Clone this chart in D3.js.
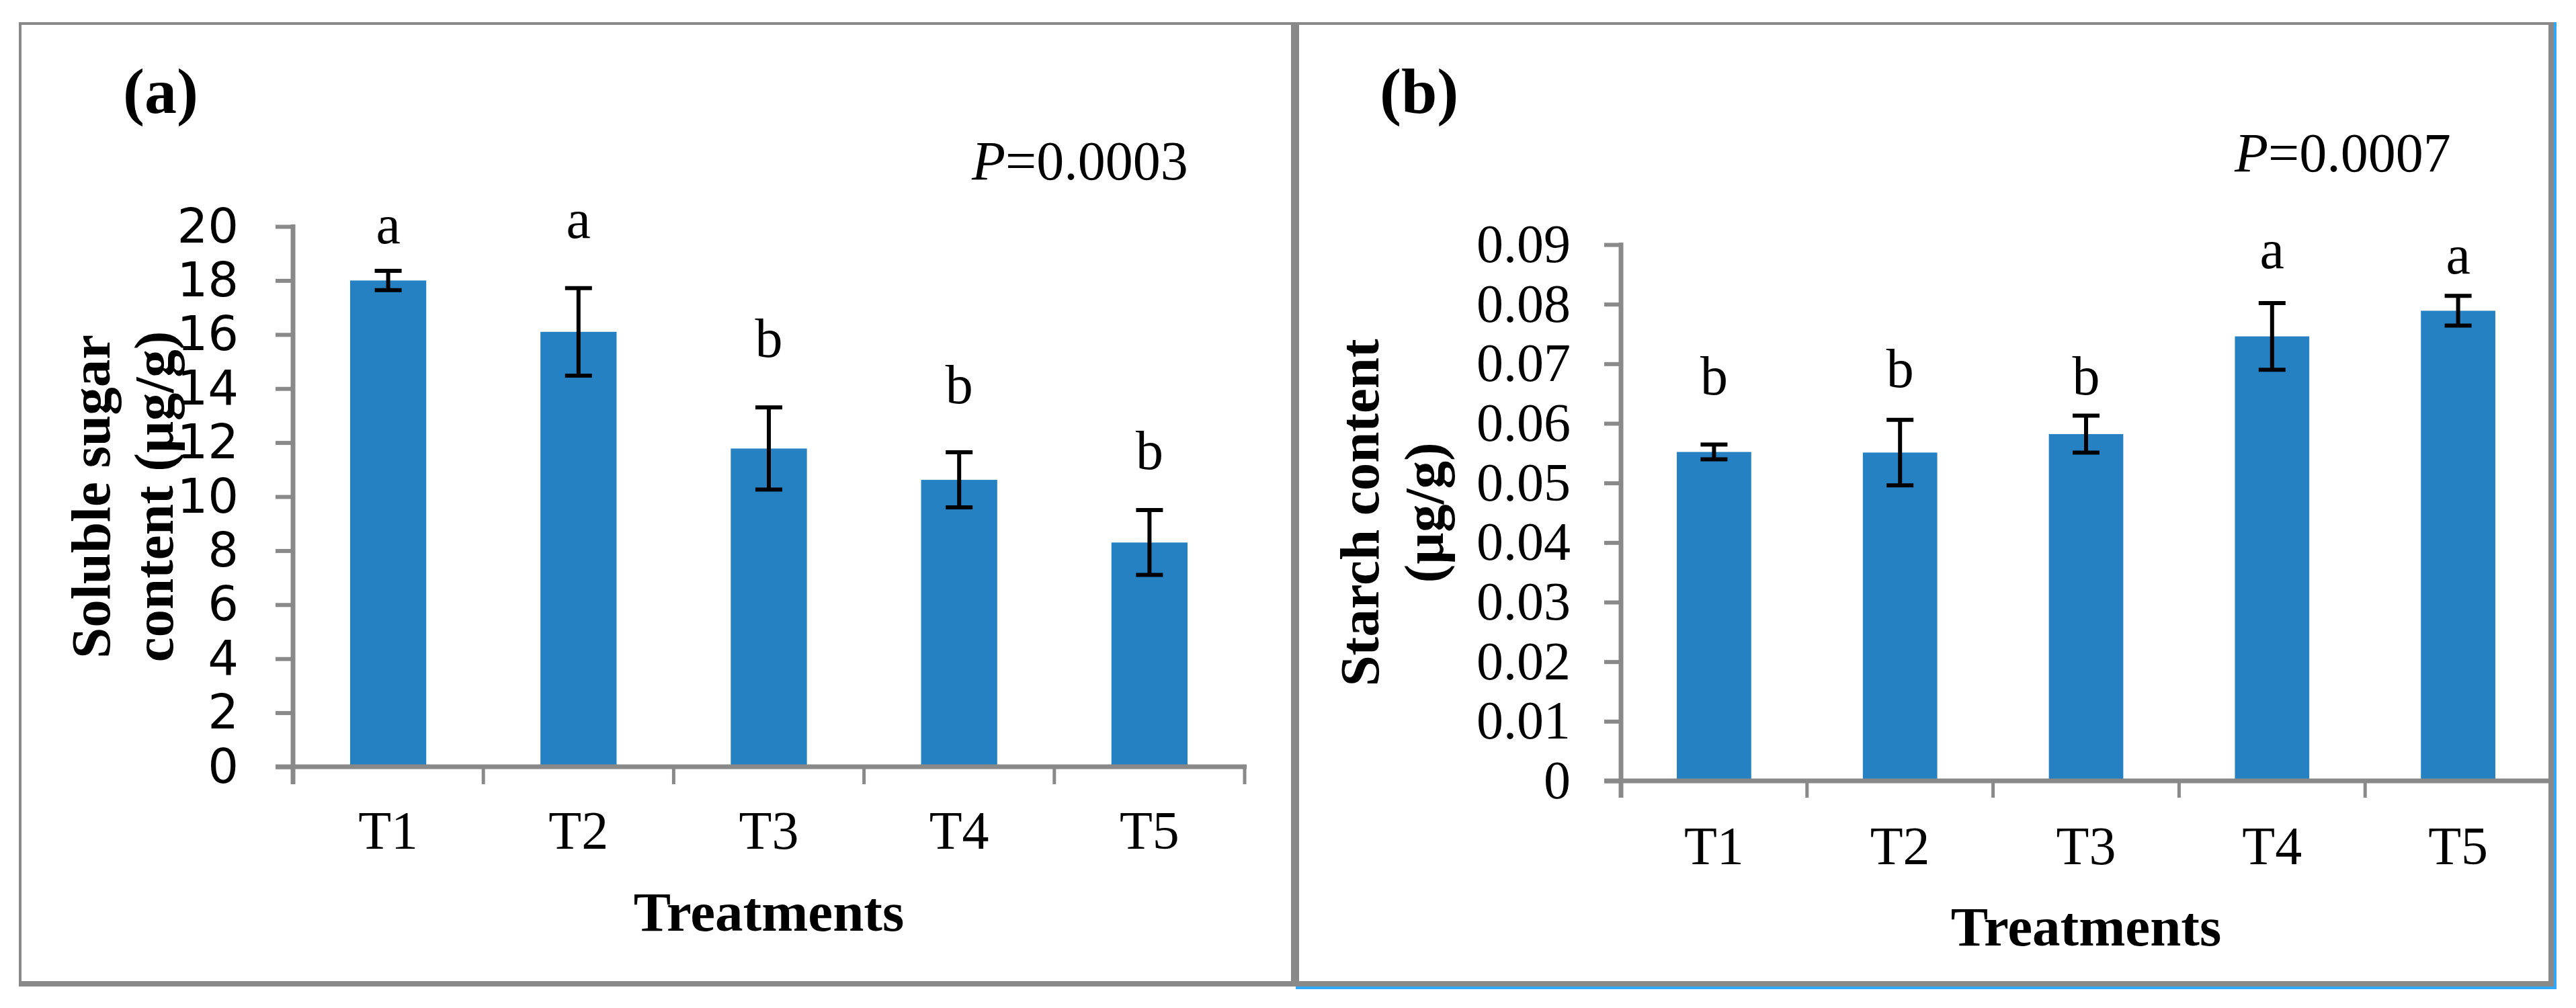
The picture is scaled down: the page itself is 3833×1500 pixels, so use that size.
<!DOCTYPE html>
<html>
<head>
<meta charset="utf-8">
<script src="https://cdn.jsdelivr.net/npm/d3@7/dist/d3.min.js"></script>
<style>
  html, body { margin: 0; padding: 0; background: #ffffff; }
  svg { display: block; }
</style>
</head>
<body>
<script>
// ---------------- DATA ----------------
const categories = ["T1", "T2", "T3", "T4", "T5"];

// Panel (a): soluble sugar content (µg/g)
const sugarMeans   = [18.0, 16.1, 11.78, 10.62, 8.3];
const sugarErrors  = [0.36, 1.62, 1.52, 1.02, 1.2];
const sugarLetters = ["a", "a", "b", "b", "b"];
const sugarLetterAt = [19.38, 19.58, 15.17, 13.46, 11.02];
const sugarTicks   = [0, 2, 4, 6, 8, 10, 12, 14, 16, 18, 20];
const sugarTickLabels = ["0", "2", "4", "6", "8", "10", "12", "14", "16", "18", "20"];

// Panel (b): starch content (µg/g)
const starchMeans   = [0.0552, 0.0551, 0.0582, 0.0746, 0.0789];
const starchErrors  = [0.00124, 0.0055, 0.0031, 0.0056, 0.0025];
const starchLetters = ["b", "b", "b", "a", "a"];
const starchLetterAt = [0.0649, 0.0661, 0.0649, 0.0860, 0.0851];
const starchTicks   = [0, 0.01, 0.02, 0.03, 0.04, 0.05, 0.06, 0.07, 0.08, 0.09];
const starchTickLabels = ["0", "0.01", "0.02", "0.03", "0.04", "0.05", "0.06", "0.07", "0.08", "0.09"];

// ---------------- STYLE ----------------
const W = 3833, H = 1500;
const GRAY = "#898989";
const BLUE_EDGE = "#2fa7fb";
const BAR = "#2581c2";
const SERIF = "'Liberation Serif', 'Times New Roman', Times, serif";
const SANS = "'DejaVu Sans', Verdana, sans-serif";

const svg = d3.select("body").append("svg")
  .attr("width", W).attr("height", H)
  .attr("viewBox", `0 0 ${W} ${H}`);

svg.append("rect").attr("width", W).attr("height", H).attr("fill", "#fff");

// ---------------- FRAMES ----------------
const frame = svg.append("g");
// blue edge (right and bottom of panel b)
frame.append("rect").attr("x", 3800).attr("y", 33).attr("width", 4).attr("height", 1439).attr("fill", BLUE_EDGE);
frame.append("rect").attr("x", 1928).attr("y", 1468).attr("width", 1876).attr("height", 4).attr("fill", BLUE_EDGE);
// gray borders
frame.append("rect").attr("x", 28).attr("y", 33).attr("width", 3772).attr("height", 4).attr("fill", GRAY);   // top
frame.append("rect").attr("x", 28).attr("y", 33).attr("width", 4).attr("height", 1435).attr("fill", GRAY);   // left
frame.append("rect").attr("x", 28).attr("y", 1460).attr("width", 3772).attr("height", 8).attr("fill", GRAY); // bottom
frame.append("rect").attr("x", 1921).attr("y", 33).attr("width", 12).attr("height", 1435).attr("fill", GRAY); // divider
frame.append("rect").attr("x", 3792).attr("y", 33).attr("width", 8).attr("height", 1435).attr("fill", GRAY); // right

// ---------------- PANEL BUILDER ----------------
function panel(cfg) {
  const g = svg.append("g");
  const x = d3.scaleBand().domain(categories)
    .range([cfg.x0, cfg.x1]).paddingInner(0.6).paddingOuter(0.3);
  const y = d3.scaleLinear().domain(cfg.domain).range([cfg.y0, cfg.y1]);
  const step = x.step();
  const boundaries = d3.range(categories.length + 1).map(i => cfg.x0 + i * step);

  // bars
  g.selectAll("rect.bar").data(cfg.means).join("rect")
    .attr("class", "bar")
    .attr("x", (d, i) => x(categories[i]))
    .attr("width", x.bandwidth())
    .attr("y", d => y(d))
    .attr("height", d => y(0) - y(d))
    .attr("fill", BAR);

  // y axis (ticks + labels) using d3 axis
  const yAxis = d3.axisLeft(y)
    .tickValues(cfg.ticks)
    .tickFormat((d, i) => cfg.tickLabels[i])
    .tickSize(cfg.tickLen)
    .tickSizeOuter(0)
    .tickPadding(cfg.labelPad);
  const ya = g.append("g").attr("transform", `translate(${cfg.x0},0)`).call(yAxis);
  ya.select(".domain").remove();
  ya.selectAll(".tick line").attr("stroke", GRAY).attr("stroke-width", 6);
  ya.selectAll(".tick text")
    .attr("fill", "#000")
    .style("font-family", cfg.tickFont)
    .style("font-size", cfg.tickSize + "px");

  // x axis line
  g.append("line")
    .attr("x1", cfg.x0 - cfg.tickLen).attr("x2", cfg.x1 + 3)
    .attr("y1", y(0)).attr("y2", y(0))
    .attr("stroke", GRAY).attr("stroke-width", 7);
  // y axis line
  g.append("line")
    .attr("x1", cfg.x0).attr("x2", cfg.x0)
    .attr("y1", y(cfg.domain[1]) - 3).attr("y2", y(0) + cfg.tickLen)
    .attr("stroke", GRAY).attr("stroke-width", 7);
  // x tick marks at category boundaries
  g.selectAll("line.xt").data(boundaries).join("line")
    .attr("class", "xt")
    .attr("x1", d => d).attr("x2", d => d)
    .attr("y1", y(0)).attr("y2", y(0) + cfg.tickLen)
    .attr("stroke", GRAY).attr("stroke-width", 5);

  // x labels
  g.selectAll("text.xl").data(categories).join("text")
    .attr("class", "xl")
    .attr("x", d => x(d) + x.bandwidth() / 2)
    .attr("y", cfg.xLabelY)
    .attr("text-anchor", "middle")
    .style("font-family", SERIF).style("font-size", "80px")
    .text(d => d);

  // error bars
  const cx = i => x(categories[i]) + x.bandwidth() / 2;
  const eb = g.append("g").attr("stroke", "#000").attr("stroke-width", 6).attr("fill", "none");
  cfg.means.forEach((m, i) => {
    const e = cfg.errors[i];
    eb.append("line").attr("x1", cx(i)).attr("x2", cx(i)).attr("y1", y(m + e)).attr("y2", y(m - e));
    eb.append("line").attr("x1", cx(i) - 20).attr("x2", cx(i) + 20).attr("y1", y(m + e)).attr("y2", y(m + e));
    eb.append("line").attr("x1", cx(i) - 20).attr("x2", cx(i) + 20).attr("y1", y(m - e)).attr("y2", y(m - e));
  });

  // significance letters
  g.selectAll("text.sig").data(cfg.letters).join("text")
    .attr("class", "sig")
    .attr("x", (d, i) => cx(i))
    .attr("y", (d, i) => y(cfg.letterAt[i]))
    .attr("text-anchor", "middle")
    .style("font-family", SERIF).style("font-size", "82px")
    .text(d => d);

  // x title
  g.append("text")
    .attr("x", (cfg.x0 + cfg.x1) / 2).attr("y", cfg.xTitleY)
    .attr("text-anchor", "middle")
    .style("font-family", SERIF).style("font-size", "83px").style("font-weight", "bold")
    .text("Treatments");

  // y title (two lines, rotated)
  const yc = (y(0) + y(cfg.domain[1])) / 2;
  cfg.yTitle.forEach((line, k) => {
    g.append("text")
      .attr("transform", `translate(${cfg.yTitleX[k]},${yc}) rotate(-90)`)
      .attr("text-anchor", "middle")
      .style("font-family", SERIF).style("font-size", "83px").style("font-weight", "bold")
      .text(line);
  });

  // panel label
  g.append("text")
    .attr("x", cfg.tag[0]).attr("y", cfg.tag[1])
    .style("font-family", SERIF).style("font-size", "96px").style("font-weight", "bold")
    .text(cfg.tagText);

  // P value
  const p = g.append("text")
    .attr("x", cfg.pPos[0]).attr("y", cfg.pPos[1])
    .style("font-family", SERIF).style("font-size", "82px");
  p.append("tspan").style("font-style", "italic").text("P");
  p.append("tspan").text(cfg.pText);
}

panel({
  x0: 436, x1: 1852, y0: 1141, y1: 337, domain: [0, 20],
  means: sugarMeans, errors: sugarErrors, letters: sugarLetters, letterAt: sugarLetterAt,
  ticks: sugarTicks, tickLabels: sugarTickLabels,
  tickLen: 26, labelPad: 55, tickFont: SANS, tickSize: 72,
  xLabelY: 1263, xTitleY: 1385,
  yTitle: ["Soluble sugar", "content (\u00b5g/g)"], yTitleX: [163, 257],
  tag: [183, 168], tagText: "(a)",
  pPos: [1446, 267], pText: "=0.0003"
});

panel({
  x0: 2412, x1: 3796, y0: 1162, y1: 364, domain: [0, 0.09],
  means: starchMeans, errors: starchErrors, letters: starchLetters, letterAt: starchLetterAt,
  ticks: starchTicks, tickLabels: starchTickLabels,
  tickLen: 25, labelPad: 50, tickFont: SERIF, tickSize: 80,
  xLabelY: 1286, xTitleY: 1407,
  yTitle: ["Starch content", "(\u00b5g/g)"], yTitleX: [2051, 2147],
  tag: [2053, 168], tagText: "(b)",
  pPos: [3325, 255], pText: "=0.0007"
});
</script>
</body>
</html>
